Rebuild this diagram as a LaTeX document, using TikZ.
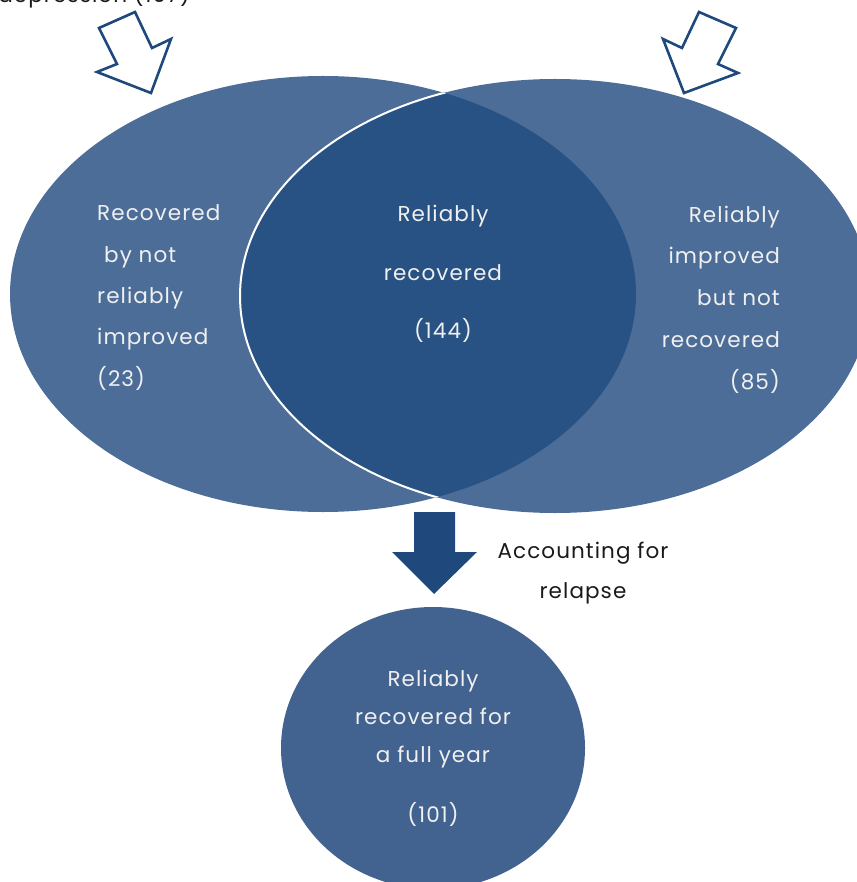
\documentclass[tikz,border=0pt]{standalone}
\usepackage{fontspec}
\setmainfont{Poppins}[LetterSpace=5]
\definecolor{outerblue}{HTML}{4C6D98}
\definecolor{innerblue}{HTML}{285283}
\definecolor{circblue}{HTML}{42628F}
\definecolor{arrowblue}{HTML}{1F497D}
\definecolor{lighttext}{HTML}{F0F0F0}
\definecolor{darktext}{HTML}{1A1A1A}
\begin{document}
\begin{tikzpicture}[x=1pt,y=-1pt,
  wtxt/.style={text=lighttext,font=\fontsize{21.5}{24}\selectfont,inner sep=0pt},
  btxt/.style={text=darktext,font=\fontsize{21.5}{24}\selectfont,inner sep=0pt},
  hollow/.style={draw=arrowblue,line width=2.6pt,line join=miter,fill=white}]
\useasboundingbox (0,0) rectangle (856,882);
% ellipses
\fill[outerblue] (323,294) ellipse [x radius=313,y radius=218];
\fill[outerblue] (555,296) ellipse [x radius=315,y radius=217];
\begin{scope}
  \clip (323,294) ellipse [x radius=313,y radius=218];
  \fill[innerblue] (555,296) ellipse [x radius=315,y radius=217];
  \draw[white,line width=2pt] (555,296) ellipse [x radius=315,y radius=217];
\end{scope}
% bottom circle
\fill[circblue] (433,748) ellipse [x radius=152,y radius=141];
% hollow arrows
\draw[hollow] (99,28) -- (135,12) -- (152,48) -- (171,39) -- (151,93) -- (97,72) -- (117,64) -- cycle;
\draw[hollow] (699,12) -- (736,28) -- (718,64) -- (738,73) -- (684,93) -- (663,39) -- (682,48) -- cycle;
% down arrow
\fill[arrowblue] (414,512) -- (455,512) -- (455,552) -- (477,552) -- (434,594) -- (392,552) -- (414,552) -- cycle;
% top text
\node[btxt,anchor=base east] (toptext) at (190,3) {depression (107)};
% left text
\node[wtxt,anchor=base west] (l1) at (97,221) {Recovered};
\node[wtxt,anchor=base west] (l2) at (104,262) {by not};
\node[wtxt,anchor=base west] (l3) at (97,303) {reliably};
\node[wtxt,anchor=base west] (l4) at (97,344) {improved};
\node[wtxt,anchor=base west] (l5) at (97,386) {(23)};
% center text
\node[wtxt,anchor=base] (c1) at (443,222) {Reliably};
\node[wtxt,anchor=base] (c2) at (443,280) {recovered};
\node[wtxt,anchor=base] (c3) at (443,338) {(144)};
% right text
\node[wtxt,anchor=base east] (r1) at (780,223) {Reliably};
\node[wtxt,anchor=base east] (r2) at (780,264) {improved};
\node[wtxt,anchor=base east] (r3) at (780,305) {but not};
\node[wtxt,anchor=base east] (r4) at (780,347) {recovered};
\node[wtxt,anchor=base east] (r5) at (780,389) {(85)};
% accounting text
\node[btxt,anchor=base] (a1) at (583,558) {Accounting for};
\node[btxt,anchor=base] (a2) at (583,598) {relapse};
% bottom text
\node[wtxt,anchor=base] (b1) at (433,686) {Reliably};
\node[wtxt,anchor=base] (b2) at (433,724) {recovered for};
\node[wtxt,anchor=base] (b3) at (433,762) {a full year};
\node[wtxt,anchor=base] (b4) at (433,822) {(101)};
\end{tikzpicture}
\end{document}
